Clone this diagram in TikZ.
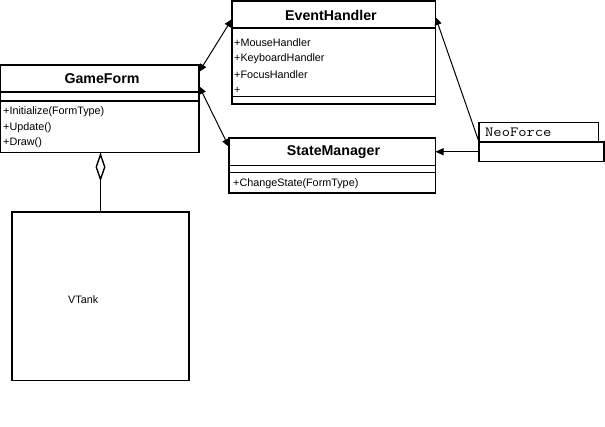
\documentclass[tikz,border=0pt]{standalone}
\usepackage{fontspec}
\usepackage{graphicx}
\setmainfont{Liberation Sans}
\usetikzlibrary{arrows.meta,calc}
\begin{document}
\begin{tikzpicture}[x=1pt,y=-1pt,
  box/.style={draw, line width=1.6pt, rectangle, inner sep=0pt, outer sep=0pt, anchor=north west},
  sep/.style={line width=1.6pt},
  title/.style={font=\fontsize{14.2}{16}\selectfont\bfseries, inner sep=0pt},
  member/.style={font=\fontsize{10.8}{12}\selectfont, inner sep=0pt, anchor=west},
  conn/.style={line width=1pt},
  tri/.tip={Triangle[length=8pt,width=7pt]}]
\useasboundingbox (0,0) rectangle (605,426);
% boxes
\node[box, minimum width=198.5pt, minimum height=87.5pt] (gf) at (0.5,65) {};
\node[box, minimum width=203.5pt, minimum height=103pt] (eh) at (232,1) {};
\node[box, minimum width=206.5pt, minimum height=55pt] (sm) at (229,138) {};
\node[box, minimum width=119.5pt, minimum height=19.5pt] (nf1) at (479,122.5) {};
\node[box, minimum width=125pt, minimum height=19.5pt] (nf2) at (479,142) {};
\node[box, minimum width=177pt, minimum height=168.5pt] (vt) at (12,212) {};
% separators
\draw[sep] (gf.west |- 0,92) -- (gf.east |- 0,92);
\draw[sep] (gf.west |- 0,101) -- (gf.east |- 0,101);
\draw[sep] (eh.west |- 0,28) -- (eh.east |- 0,28);
\draw[sep] (eh.west |- 0,96.5) -- (eh.east |- 0,96.5);
\draw[sep] (sm.west |- 0,165.5) -- (sm.east |- 0,165.5);
\draw[sep] (sm.west |- 0,172.5) -- (sm.east |- 0,172.5);
% texts
\node[title] (gft) at (102,78.5) {GameForm};
\node[member] (gf1) at (3,111.5) {+Initialize(FormType)};
\node[member] (gf2) at (3,127.5) {+Update()};
\node[member] (gf3) at (3,143) {+Draw()};
\node[title] (eht) at (331,15) {EventHandler};
\node[member] (eh1) at (234,43) {+MouseHandler};
\node[member] (eh2) at (234,59) {+KeyboardHandler};
\node[member] (eh3) at (234,75) {+FocusHandler};
\node[member] (eh4) at (234,90) {+};
\node[title] (smt) at (333.5,152) {StateManager};
\node[member] (sm1) at (233,184) {+ChangeState(FormType)};
\node[inner sep=0pt, anchor=west, font=\ttfamily\fontsize{14}{15}\selectfont] (nft) at (485,132.5) {\scalebox{1.15}[1]{NeoForce}};
\node[member] (vtt) at (68,300) {VTank};
% connectors
\draw[conn, tri-tri] ([yshift=-7pt]gf.north east) -- ([yshift=-18pt]eh.north west);
\draw[conn, tri-tri] ([yshift=-21pt]gf.north east) -- ([yshift=-9pt]sm.north west);
\draw[conn, -tri] (nf2.west) -- (nf2.west -| sm.east);
\draw[conn, -tri] (nf2.north west) -- ([yshift=-16pt]eh.north east);
\draw[conn, -{Diamond[open, length=29pt, width=10pt, line width=1.4pt]}] (vt.north) -- (vt.north |- gf.south);
\end{tikzpicture}
\end{document}
